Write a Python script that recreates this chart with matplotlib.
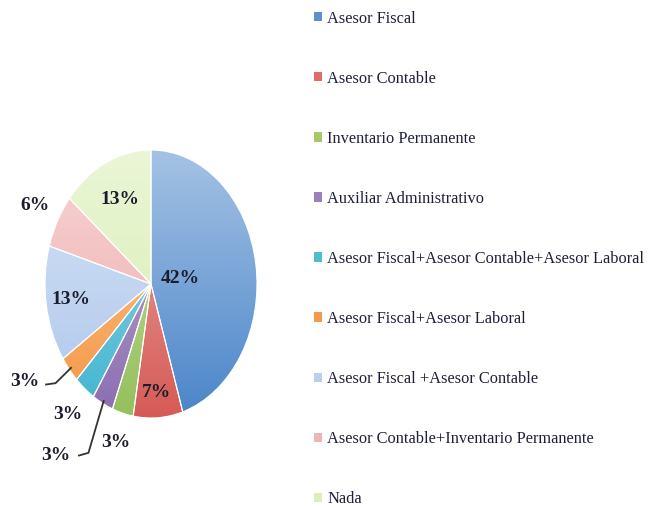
import numpy as np
import matplotlib
matplotlib.use("Agg")
import matplotlib.pyplot as plt
from matplotlib.colors import LinearSegmentedColormap, to_rgb
from matplotlib.patches import Patch

categories = ["Asesor Fiscal", "Asesor Contable", "Inventario Permanente",
              "Auxiliar Administrativo",
              "Asesor Fiscal+Asesor Contable+Asesor Laboral",
              "Asesor Fiscal+Asesor Laboral", "Asesor Fiscal +Asesor Contable",
              "Asesor Contable+Inventario Permanente", "Nada"]
values = [42, 7, 3, 3, 3, 3, 13, 6, 13]
pct_labels = ["42%", "7%", "3%", "3%", "3%", "3%", "13%", "6%", "13%"]

base_colors = ["#4a85c9", "#d65a55", "#94c05a", "#8a6cb0", "#40b4d0",
               "#f59642", "#aec7ec", "#eeaaaa", "#d6edae"]
legend_colors = ["#5b8fd0", "#e06a66", "#a4c86a", "#9a80bd", "#4fbcd6",
                 "#f59a4c", "#b8cff0", "#f0b4b4", "#dcefb8"]

# label radial distances (style) and special leader cases
label_r = [0.28, 0.81, 1.23, None, 1.25, None, 0.76, 1.24, 0.70]

W, H = 649, 508
fig = plt.figure(figsize=(W / 100, H / 100), dpi=100)
ax = fig.add_axes([45 / W, (H - 418) / H, 212 / W, 268 / H])

wedges, _ = ax.pie(values, startangle=90, counterclock=False, radius=1,
                   wedgeprops=dict(edgecolor="white", linewidth=0.8))

grad = np.linspace(0, 1, 256).reshape(-1, 1)
for w, c in zip(wedges, base_colors):
    rgb = np.array(to_rgb(c))
    top = rgb + (1 - rgb) * 0.5
    cmap = LinearSegmentedColormap.from_list("g", [top, rgb])
    im = ax.imshow(grad, extent=(-1, 1, -1, 1), cmap=cmap, origin="upper",
                   aspect="auto", zorder=1, interpolation="bilinear")
    im.set_clip_path(w)
    w.set_facecolor("none")
    w.set_zorder(2)

txt_kw = dict(fontfamily="Liberation Serif", fontweight="bold", fontsize=14,
              color="#1c1c2c", ha="center", va="center", zorder=5)

for i, w in enumerate(wedges):
    mid = np.deg2rad((w.theta1 + w.theta2) / 2)
    d = np.array([np.cos(mid), np.sin(mid)])
    if label_r[i] is not None:
        p = d * label_r[i]
        ax.text(p[0], p[1], pct_labels[i], **txt_kw)

# leader-line labels
# purple (index 3)
w = wedges[3]
mid = np.deg2rad((w.theta1 + w.theta2) / 2)
p0 = np.array([np.cos(mid), np.sin(mid)]) * 0.98
ax.plot([p0[0], -0.59, -0.68], [p0[1], -1.26, -1.28], color="#333333",
        lw=1.3, zorder=4, clip_on=False)
ax.text(-0.90, -1.28, pct_labels[3], **txt_kw)
# orange (index 5)
w = wedges[5]
mid = np.deg2rad((w.theta1 + w.theta2) / 2)
p0 = np.array([np.cos(mid), np.sin(mid)]) * 0.98
ax.plot([p0[0], -0.90, -0.99], [p0[1], -0.74, -0.75], color="#333333",
        lw=1.3, zorder=4, clip_on=False)
ax.text(-1.19, -0.73, pct_labels[5], **txt_kw)

ax.set_xlim(-1, 1)
ax.set_ylim(-1, 1)
ax.set_aspect("auto")
ax.axis("off")

handles = [Patch(facecolor=c, edgecolor="none") for c in legend_colors]
leg = fig.legend(handles, categories, loc="upper left",
                 bbox_to_anchor=(307 / W, 1 - 4 / H), frameon=False,
                 prop=dict(family="Liberation Serif", size=11.8),
                 handlelength=0.5, handleheight=0.5, handletextpad=0.35,
                 labelspacing=2.69, borderaxespad=0)
for t in leg.get_texts():
    t.set_color("#1f1f3a")

fig.savefig("out.png", dpi=100)
